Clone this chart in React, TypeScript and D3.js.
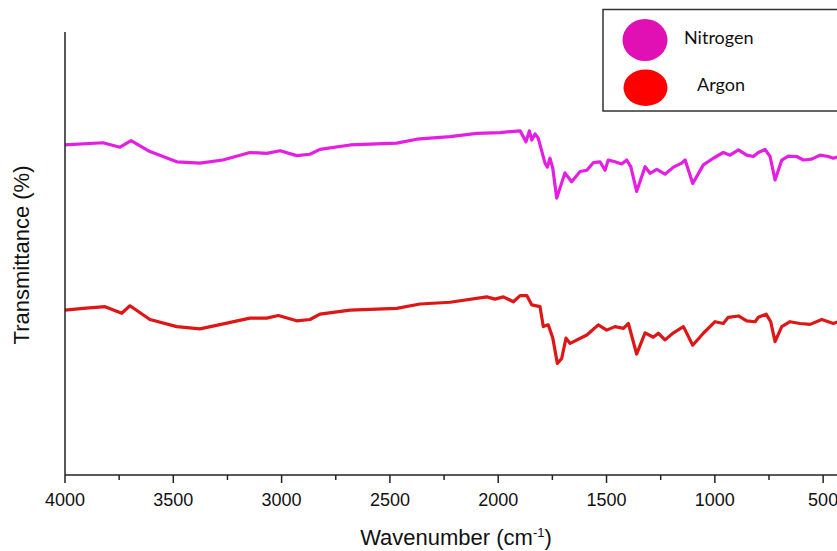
import React from 'react';
import * as d3 from 'd3';

// FTIR spectra (wavenumber in cm-1, transmittance in %)
const nitrogenWavenumber = [
  4000, 3825, 3746, 3695, 3608, 3484, 3377, 3271, 3146, 3069, 3007, 2930, 2869, 2823, 2684,
  2469, 2376, 2222, 2099, 1992, 1899, 1872, 1856, 1845, 1830, 1815, 1784, 1773, 1761, 1748,
  1730, 1692, 1661, 1622, 1591, 1561, 1530, 1507, 1492, 1461, 1430, 1407, 1388, 1361, 1322,
  1299, 1268, 1230, 1191, 1153, 1137, 1102, 1053, 1007, 961, 930, 891, 853, 822, 799, 768,
  745, 722, 691, 661, 622, 591, 553, 514, 476, 453, 420,
];
const nitrogenT = [
  74.5, 75.0, 74.0, 75.5, 73.0, 70.7, 70.4, 71.1, 72.8, 72.6, 73.2, 72.1, 72.4, 73.5, 74.5,
  74.9, 75.8, 76.4, 77.1, 77.3, 77.7, 75.2, 77.7, 75.6, 77.0, 76.0, 70.4, 69.5, 71.5, 69.2,
  62.5, 68.2, 66.2, 68.5, 68.8, 70.5, 70.7, 68.8, 71.1, 70.7, 70.2, 71.1, 69.6, 64.0, 69.6,
  68.1, 69.0, 67.9, 69.5, 70.4, 71.1, 65.8, 70.0, 71.5, 72.8, 72.2, 73.4, 72.2, 71.9, 72.8, 73.5,
  71.9, 66.6, 71.1, 72.0, 71.9, 71.1, 71.3, 72.2, 71.9, 71.5, 72.0,
];

const argonWavenumber = [
  4000, 3916, 3815, 3738, 3700, 3608, 3484, 3377, 3269, 3146, 3069, 3015, 2930, 2869, 2823,
  2684, 2469, 2361, 2222, 2053, 2015, 1976, 1930, 1899, 1868, 1845, 1807, 1792, 1769, 1748,
  1727, 1707, 1687, 1668, 1591, 1538, 1499, 1461, 1422, 1399, 1361, 1322, 1284, 1261, 1230,
  1191, 1145, 1102, 1053, 999, 961, 938, 891, 853, 814, 799, 763, 742, 722, 691, 653, 607,
  560, 506, 453, 420,
];
const argonT = [
  37.2, 37.6, 38.0, 36.5, 38.2, 35.1, 33.5, 33.0, 34.1, 35.4, 35.4, 36.0, 34.8, 35.1, 36.3,
  37.2, 37.6, 38.6, 39.0, 40.2, 39.7, 40.2, 39.1, 40.5, 40.5, 38.4, 38.0, 33.5, 33.9, 30.9,
  25.2, 26.3, 30.9, 29.7, 31.6, 33.9, 32.7, 33.5, 33.1, 34.2, 27.3, 32.1, 31.1, 32.0, 30.5,
  32.1, 33.5, 29.3, 32.0, 34.6, 34.2, 35.6, 35.9, 34.8, 34.6, 35.6, 36.3, 34.6, 30.1, 33.5, 34.6, 34.2,
  34.0, 35.1, 34.2, 34.8,
];

const seriesNames = ['Nitrogen', 'Argon'];
const xTicks = [4000, 3500, 3000, 2500, 2000, 1500, 1000, 500];
const xMinorTicks = [3750, 3250, 2750, 2250, 1750, 1250, 750];

const width = 837;
const height = 551;

const App = () => {
  const x = d3.scaleLinear().domain([4000, 400]).range([65, 844.8]);
  const y = d3.scaleLinear().domain([0, 100]).range([475, 32]);

  const line = d3
    .line<[number, number]>()
    .x((d) => x(d[0]))
    .y((d) => y(d[1]));

  const nitrogen = nitrogenWavenumber.map((w, i) => [w, nitrogenT[i]] as [number, number]);
  const argon = argonWavenumber.map((w, i) => [w, argonT[i]] as [number, number]);

  const axisFont = '"Liberation Sans", Arial, sans-serif';
  const [y0, y1] = y.range();

  return (
    <div style={{ position: 'fixed', left: 0, top: 0 }}>
      <svg width={width} height={height} style={{ display: 'block', background: '#fff' }}>
        {/* spectra */}
        <path d={line(nitrogen) || ''} fill="none" stroke="#e41ee2" strokeWidth={3.2} strokeLinejoin="round" />
        <path d={line(argon) || ''} fill="none" stroke="#dd1616" strokeWidth={3.2} strokeLinejoin="round" />

        {/* axes */}
        <line x1={x(4000)} x2={x(4000)} y1={y1} y2={y0} stroke="#222" strokeWidth={1.5} />
        <line x1={x(4000)} x2={width} y1={y0} y2={y0} stroke="#222" strokeWidth={1.5} />
        {xTicks.map((t) => (
          <g key={t}>
            <line x1={x(t)} x2={x(t)} y1={y0} y2={y0 + 8} stroke="#222" strokeWidth={1.5} />
            <text x={x(t)} y={506} textAnchor="middle" fontFamily={axisFont} fontSize={18} fill="#111">
              {t}
            </text>
          </g>
        ))}
        {xMinorTicks.map((t) => (
          <line key={t} x1={x(t)} x2={x(t)} y1={y0} y2={y0 + 5} stroke="#222" strokeWidth={1.5} />
        ))}

        {/* axis titles */}
        <text x={456} y={545} textAnchor="middle" fontFamily={axisFont} fontSize={22} fill="#111">
          Wavenumber (cm
          <tspan dy={-8} fontSize={13}>-1</tspan>
          <tspan dy={8}>)</tspan>
        </text>
        <text
          transform="translate(29,255) rotate(-90)"
          textAnchor="middle"
          fontFamily={axisFont}
          fontSize={22}
          fill="#111"
        >
          Transmittance (%)
        </text>

        {/* legend */}
        <rect x={603} y={9.5} width={250} height={101.5} fill="#fff" stroke="#333" strokeWidth={1.5} />
        <ellipse cx={645} cy={40} rx={22.5} ry={21} fill="#e010b4" />
        <ellipse cx={645.5} cy={87.7} rx={22} ry={18.3} fill="#ff0000" />
        <text x={684} y={44} fontFamily="Lato, sans-serif" fontSize={18} fill="#111">
          {seriesNames[0]}
        </text>
        <text x={697} y={91} fontFamily="Lato, sans-serif" fontSize={18} fill="#111">
          {seriesNames[1]}
        </text>
      </svg>
    </div>
  );
};

export default App;
